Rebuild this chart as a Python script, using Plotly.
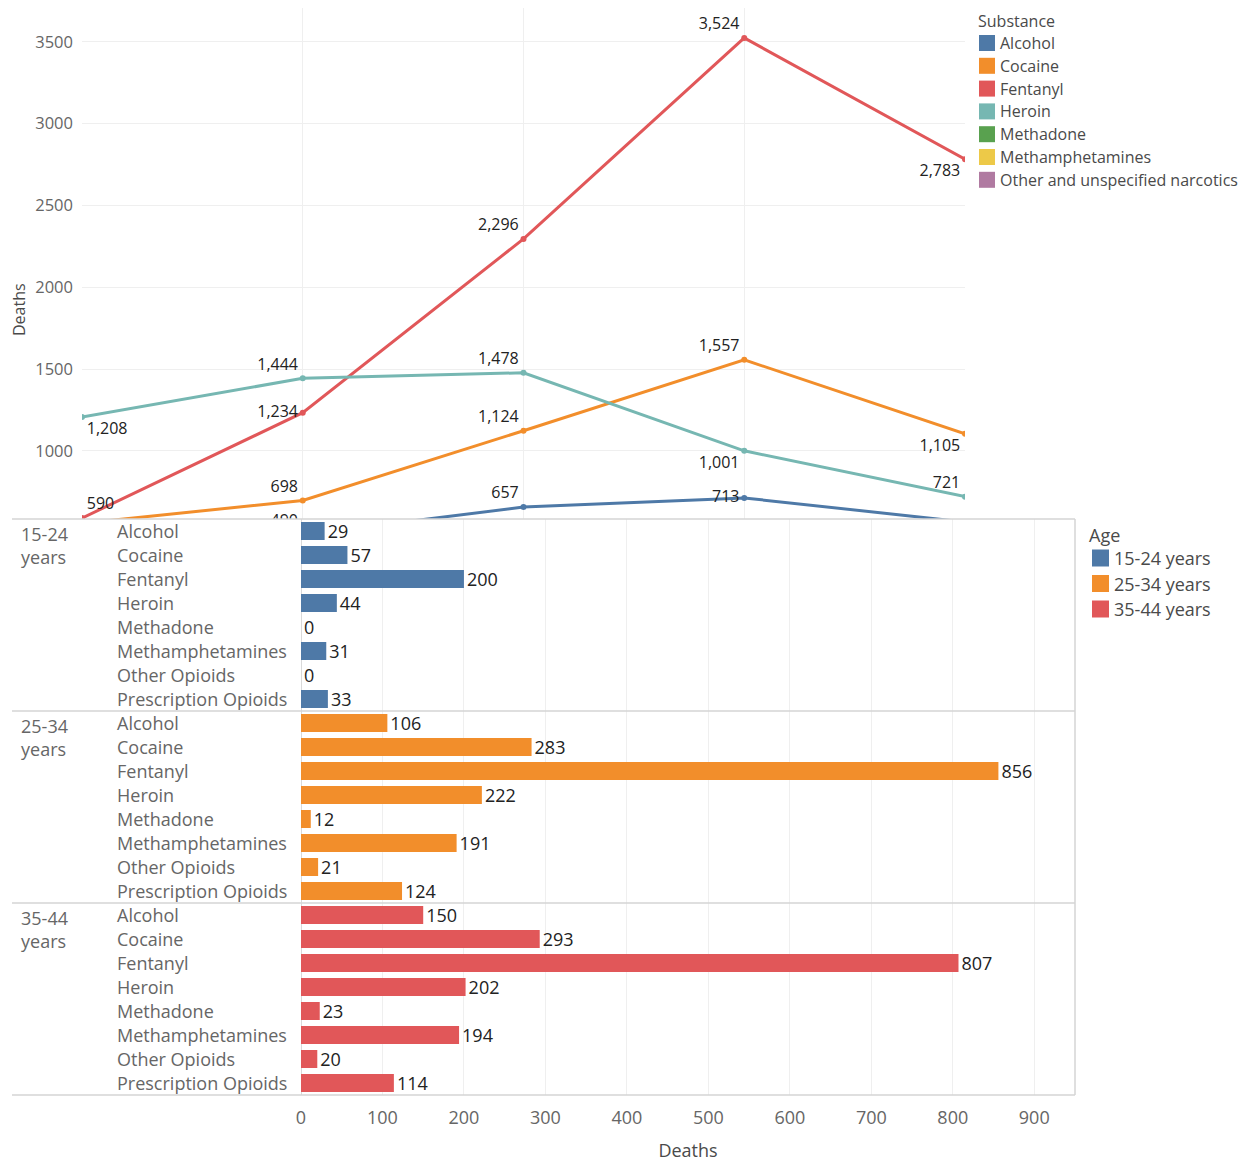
import plotly.graph_objects as go

# ---------------- data ----------------
periods = ["P1", "P2", "P3", "P4", "P5"]
substances = ["Alcohol", "Cocaine", "Fentanyl", "Heroin", "Methadone",
              "Methamphetamines", "Other and unspecified narcotics"]
line_values = {
    "Alcohol": [420, 490, 657, 713, 566],
    "Cocaine": [558, 698, 1124, 1557, 1105],
    "Fentanyl": [590, 1234, 2296, 3524, 2783],
    "Heroin": [1208, 1444, 1478, 1001, 721],
    "Methadone": [160, 180, 190, 200, 170],
    "Methamphetamines": [250, 300, 360, 390, 330],
    "Other and unspecified narcotics": [120, 140, 150, 160, 140],
}

ages = ["15-24 years", "25-34 years", "35-44 years"]
bar_substances = ["Alcohol", "Cocaine", "Fentanyl", "Heroin", "Methadone",
                  "Methamphetamines", "Other Opioids", "Prescription Opioids"]
bar_values = {
    "15-24 years": [29, 57, 200, 44, 0, 31, 0, 33],
    "25-34 years": [106, 283, 856, 222, 12, 191, 21, 124],
    "35-44 years": [150, 293, 807, 202, 23, 194, 20, 114],
}

# ---------------- styles ----------------
PAGE_W, PAGE_H = 1254, 1162
OFF = 8  # browser default body margin
W, H = PAGE_W - OFF, PAGE_H - OFF
FONT = "Open Sans"
GRAY = "#666666"
TITLE = "#4a4a4a"
LABEL = "#222222"
sub_colors = {
    "Alcohol": "#4e79a7", "Cocaine": "#f28e2b", "Fentanyl": "#e15759",
    "Heroin": "#76b7b2", "Methadone": "#59a14f", "Methamphetamines": "#edc948",
    "Other and unspecified narcotics": "#b07aa1",
}
age_colors = {"15-24 years": "#4e79a7", "25-34 years": "#f28e2b", "35-44 years": "#e15759"}

# label placement (style): None = hidden
label_pos = {
    "Alcohol": [None, "top left", "top left", "middle left", None],
    "Cocaine": [None, "top left", "top left", "top left", "bottom left"],
    "Fentanyl": ["top right", "middle left", "top left", "top left", "bottom left"],
    "Heroin": ["bottom right", "top left", "top left", "bottom left", "top left"],
}


def px(x):
    return (x - OFF) / W


def py(y):
    return 1 - (y - OFF) / H


fig = go.Figure()

# ---------- top line chart ----------
for s in substances:
    vals = line_values[s]
    pos = label_pos.get(s, [None] * len(vals))
    texts = [f"{v:,}" if p else "" for v, p in zip(vals, pos)]
    fig.add_trace(go.Scatter(
        x=periods, y=vals, mode="lines+markers+text",
        line=dict(color=sub_colors[s], width=3),
        marker=dict(color=sub_colors[s], size=6),
        text=texts, textposition=[p or "top center" for p in pos],
        textfont=dict(family=FONT, size=16, color=LABEL),
        cliponaxis=True, showlegend=False, name=s,
        xaxis="x", yaxis="y",
    ))

top_y0, top_y1 = 519, 8
fig.update_layout(
    xaxis=dict(domain=[px(82), px(965)], type="category", categoryorder="array",
               categoryarray=periods, range=[0, 4], showticklabels=False,
               showgrid=True, gridcolor="#efefef", gridwidth=1, zeroline=False,
               showline=False, ticks="", anchor="y", automargin=False),
    yaxis=dict(domain=[py(top_y0), py(top_y1)], range=[584.4, 3707],
               tickvals=[1000, 1500, 2000, 2500, 3000, 3500],
               tickfont=dict(family=FONT, size=16.5, color=GRAY),
               showgrid=True, gridcolor="#efefef", zeroline=False, showline=False,
               ticks="", ticklabelstandoff=8, anchor="x", automargin=False),
)

# ---------- bar chart (three panels) ----------
panel_tops = [519, 711, 903]
panel_h = 192
yaxes = ["y2", "y3", "y4"]
for i, age in enumerate(ages):
    ya = yaxes[i]
    fig.add_trace(go.Bar(
        y=bar_substances, x=bar_values[age], orientation="h",
        marker=dict(color=age_colors[age], line=dict(width=0)),
        text=[str(v) for v in bar_values[age]], textposition="outside",
        textfont=dict(family=FONT, size=18, color=LABEL),
        constraintext="none", cliponaxis=False,
        xaxis="x2", yaxis=ya, showlegend=False, name=age,
    ))
    top = panel_tops[i]
    fig.layout["yaxis" + ya[1:]] = dict(
        domain=[py(top + panel_h), py(top)], type="category",
        categoryorder="array", categoryarray=bar_substances,
        range=[len(bar_substances) - 0.5, -0.5],
        showticklabels=False, showgrid=False, zeroline=False, ticks="",
        anchor="x2", automargin=False,
    )
    # row header
    fig.add_annotation(x=px(19), y=py(top + 1), xref="paper", yref="paper",
                       text=age.replace(" ", "<br>"), showarrow=False,
                       xanchor="left", yanchor="top", align="left",
                       font=dict(family=FONT, size=18, color=GRAY))
    for s in bar_substances:
        fig.add_annotation(x=px(115), y=s, xref="paper", yref=ya, text=s,
                           showarrow=False, xanchor="left", yanchor="middle",
                           font=dict(family=FONT, size=18, color=GRAY))

fig.update_layout(
    xaxis2=dict(domain=[px(301), px(1075)], range=[0, 950],
                tickvals=[0, 100, 200, 300, 400, 500, 600, 700, 800, 900],
                tickfont=dict(family=FONT, size=18, color=GRAY),
                showgrid=True, gridcolor="#efefef", zeroline=True,
                zerolinecolor="#d9d9d9", zerolinewidth=1, showline=False,
                ticks="", anchor="y4", ticklabelstandoff=10, automargin=False,
                title=dict(text="Deaths", font=dict(family=FONT, size=18, color=TITLE),
                           standoff=18)),
)

# panel separators and border
for yline in [519, 711, 903, 1095]:
    fig.add_shape(type="line", xref="paper", yref="paper",
                  x0=px(12), x1=px(1075), y0=py(yline), y1=py(yline),
                  line=dict(color="#d4d4d4", width=1.5), layer="above")
fig.add_shape(type="line", xref="paper", yref="paper",
              x0=px(1075), x1=px(1075), y0=py(519), y1=py(1095),
              line=dict(color="#d4d4d4", width=1.5), layer="above")

# top y-axis title
fig.add_annotation(x=px(19), y=py(310), xref="paper", yref="paper", text="Deaths",
                   textangle=-90, showarrow=False, xanchor="center", yanchor="middle",
                   font=dict(family=FONT, size=16, color=TITLE))

# ---------- legends ----------
fig.add_annotation(x=px(976), y=py(21), xref="paper", yref="paper", text="Substance",
                   showarrow=False, xanchor="left", yanchor="middle",
                   font=dict(family=FONT, size=16, color=TITLE))
for k, s in enumerate(substances):
    yc = 43 + k * 22.8
    fig.add_shape(type="rect", xref="paper", yref="paper",
                  x0=px(979), x1=px(995), y0=py(yc - 8), y1=py(yc + 8),
                  fillcolor=sub_colors[s], line=dict(width=0))
    fig.add_annotation(x=px(998), y=py(yc), xref="paper", yref="paper", text=s,
                       showarrow=False, xanchor="left", yanchor="middle",
                       font=dict(family=FONT, size=16, color=TITLE))

fig.add_annotation(x=px(1087), y=py(535), xref="paper", yref="paper", text="Age",
                   showarrow=False, xanchor="left", yanchor="middle",
                   font=dict(family=FONT, size=18, color=TITLE))
for k, a in enumerate(ages):
    yc = 558 + k * 25.5
    fig.add_shape(type="rect", xref="paper", yref="paper",
                  x0=px(1092), x1=px(1109), y0=py(yc - 8.5), y1=py(yc + 8.5),
                  fillcolor=age_colors[a], line=dict(width=0))
    fig.add_annotation(x=px(1112), y=py(yc), xref="paper", yref="paper", text=a,
                       showarrow=False, xanchor="left", yanchor="middle",
                       font=dict(family=FONT, size=18, color=TITLE))

fig.update_layout(
    width=W, height=H, margin=dict(l=0, r=0, t=0, b=0, autoexpand=False),
    paper_bgcolor="white", plot_bgcolor="white",
    bargap=0.25, showlegend=False,
    font=dict(family=FONT),
)

fig.write_html("out.html")
